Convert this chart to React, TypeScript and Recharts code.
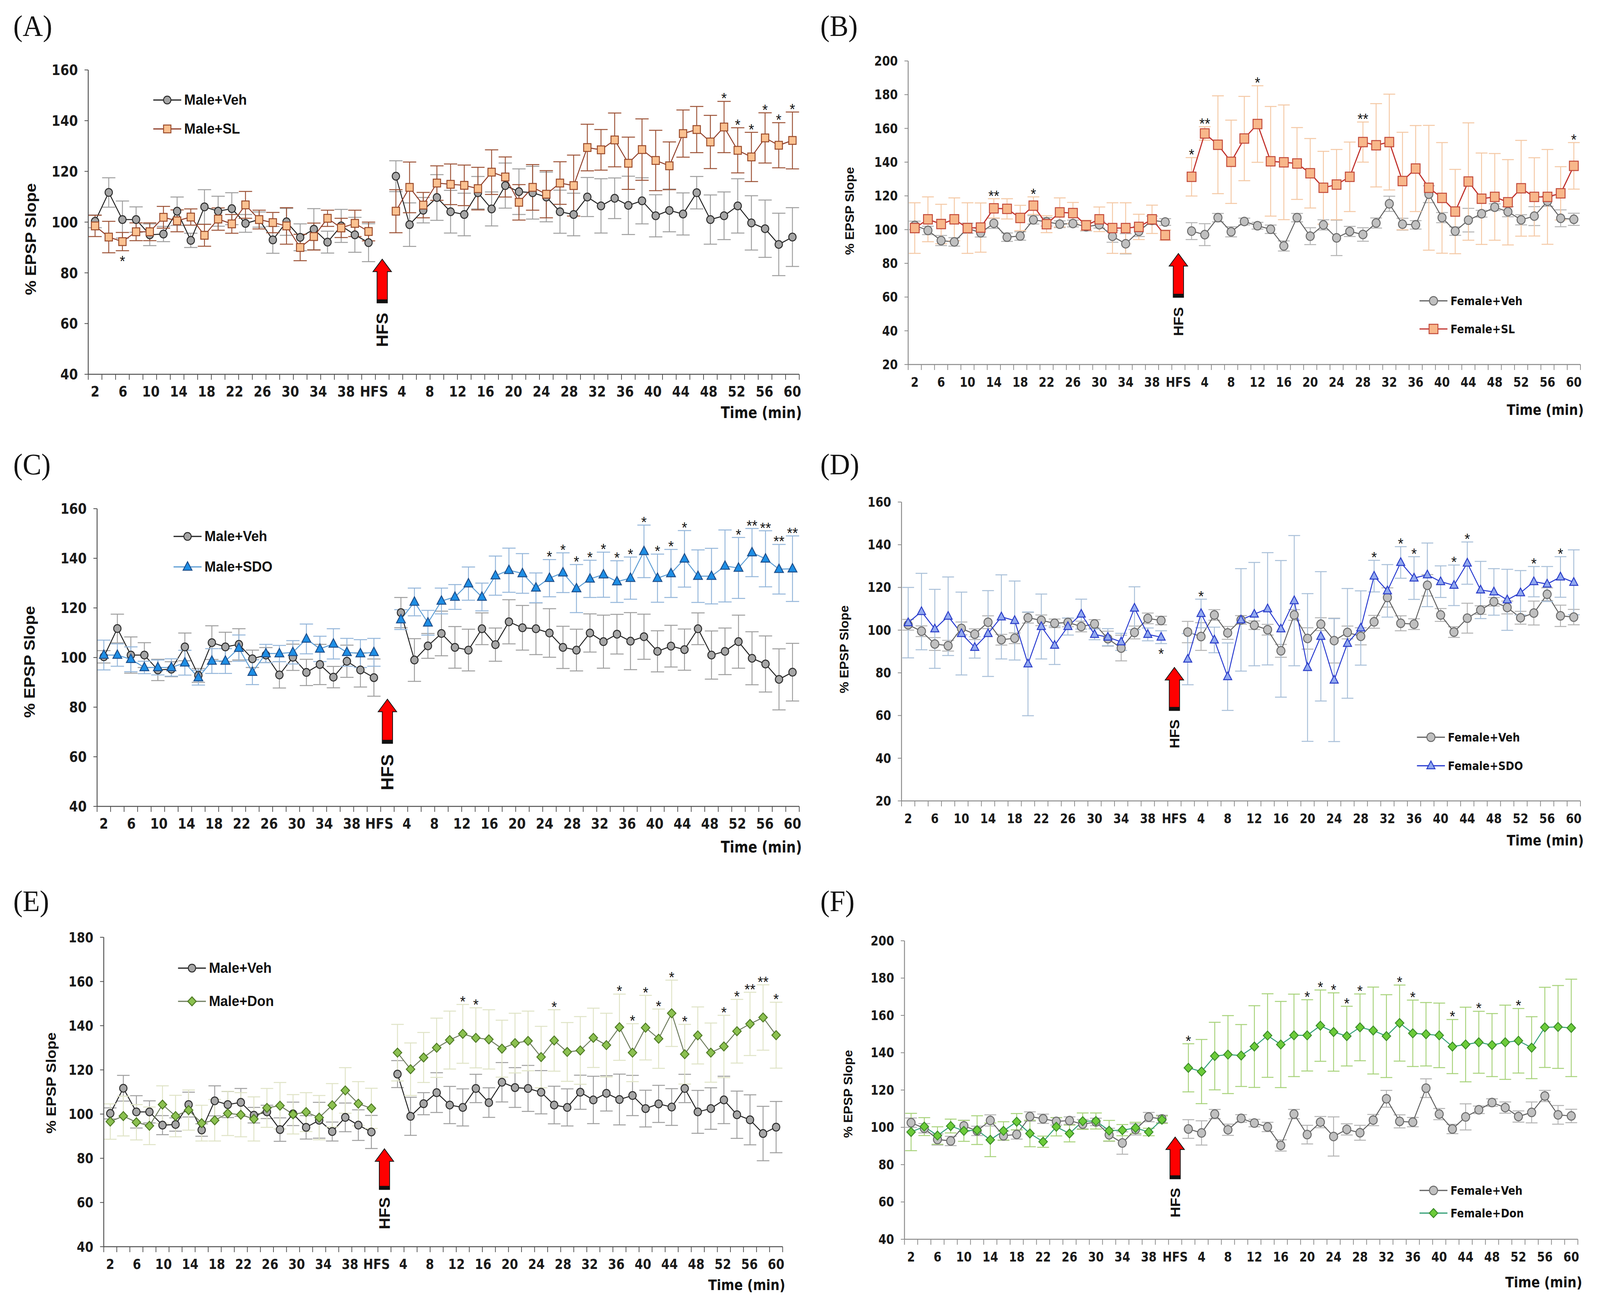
import React from "react";
import { LineChart, Line, XAxis, YAxis, ErrorBar, ReferenceDot } from "recharts";

// ---- x axis labels (shown every other slot) ----
const preLabels = ["2", "6", "10", "14", "18", "22", "26", "30", "34", "38"];
const postLabels = ["4", "8", "12", "16", "20", "24", "28", "32", "36", "40", "44", "48", "52", "56", "60"];
const tickLabels = [...preLabels, "HFS", ...postLabels];

// ---- Male + Veh (shared by A, C, E) ----
const maleVehPre = [100.3, 111.7, 101, 101, 95, 95.3, 104.3, 92.8, 106, 104.3, 105.3, 99.5, 101, 93, 100.1, 94, 97.2, 92.1, 98.5, 95, 91.9];
const maleVehPreErr = [2.5, 5.8, 7.3, 5, 4.3, 3, 5.6, 2.8, 6.8, 5.9, 6.3, 3.5, 3, 5.3, 5.3, 5.3, 8.1, 4.3, 6.5, 6.9, 7.5];
const maleVehPost = [118.1, 99, 104.7, 109.7, 104.1, 103, 111.6, 105.2, 114.4, 112, 111.6, 109.9, 104.1, 103, 109.9, 106.4, 109.4, 106.6, 108.4, 102.5, 104.6, 103.2, 111.6, 101, 102.5, 106.4, 99.7, 97.4, 91.2, 94.1];
const maleVehPostErr = [6.1, 8.6, 5, 9, 8.4, 8.4, 6.4, 6.7, 8.9, 9, 10.4, 9.8, 8.5, 8.4, 7.7, 10.7, 8, 11.5, 9.1, 8.3, 8.4, 8.3, 6.4, 9.7, 9.4, 10.7, 10.7, 11.3, 12.3, 11.6];

// ---- Male + SL (A) ----
const maleSLPre = [98.5, 94.1, 92.3, 96.2, 96.2, 101.9, 100.5, 102, 94.8, 101.2, 99.3, 106.8, 101, 99.8, 98.5, 90, 94.3, 101.5, 97.7, 99.5, 96.3];
const maleSLPreErr = [4.2, 6.2, 3.6, 3.5, 3.5, 4.3, 4.3, 3.2, 4.3, 4.4, 3.7, 5.3, 3.7, 4, 7.2, 5.2, 5.3, 3.2, 3.8, 5.2, 3.7];
const maleSLPost = [104.3, 113.7, 106.7, 115.4, 114.9, 114.5, 113.2, 119.7, 117.8, 107.8, 113.7, 111, 115.4, 114.4, 129.4, 128.5, 132.4, 123.2, 128.6, 124.3, 122.2, 134.9, 136.5, 131.6, 137.5, 128.3, 125.7, 133.2, 130.3, 132.2];
const maleSLPostErr = [8.5, 10, 5, 6.8, 8, 8, 8.4, 8.8, 7.9, 7, 9, 9.3, 8.4, 12, 9.2, 8, 10.6, 10.3, 12.1, 11.9, 9.4, 9.3, 9.1, 10.5, 10.1, 8.9, 9.7, 9.9, 8.9, 11.2];
const maleSLStarsPreBelow: Record<number, string> = { 2: "*" };
const maleSLStarsPost: Record<number, string> = { 24: "*", 25: "*", 26: "*", 27: "*", 28: "*", 29: "*" };

// ---- Male + SDO (C) ----
const maleSDOPre = [101, 101, 99.3, 96, 96, 96, 97.9, 91.9, 98.6, 98.6, 103.8, 94.1, 101.6, 101.6, 102.1, 107.5, 103.5, 105.5, 102.1, 101.6, 102.1];
const maleSDOPreErr = [6, 4.5, 5, 2.5, 3, 3.5, 5, 3, 5, 5, 5.3, 5, 3.7, 3.3, 4.7, 6, 5.1, 6.1, 5.6, 5.6, 5.6];
const maleSDOPost = [115.3, 122.4, 114, 122.8, 124.4, 129.8, 124.4, 133, 135.2, 133.9, 128.1, 132, 134.2, 127.8, 131.7, 133.4, 130.6, 132, 142.8, 132, 133.9, 139.8, 132.8, 132.8, 136.9, 136.1, 142.3, 139.8, 135.6, 135.8];
const maleSDOPostErr = [4, 5.6, 5, 5.2, 5, 6.7, 5.6, 7.9, 8.9, 8, 6, 7.5, 8, 9.7, 7.5, 9.1, 8.4, 8.5, 10.6, 9.7, 9.7, 11.4, 10.6, 11.2, 14.5, 12.3, 9.7, 11.3, 10, 13.2];
const maleSDOStarsPost: Record<number, string> = { 11: "*", 12: "*", 13: "*", 14: "*", 15: "*", 16: "*", 17: "*", 18: "*", 19: "*", 20: "*", 21: "*", 25: "*", 26: "**", 27: "**", 28: "**", 29: "**" };

// ---- Male + Don (E) ----
const maleDonPre = [96.6, 99.1, 96.3, 94.7, 104.3, 99.1, 101.8, 95.9, 97.2, 100.3, 99.7, 97.8, 102.8, 103.8, 99.9, 100.9, 98.4, 104, 110.7, 104.7, 102.6];
const maleDonPreErr = [8, 9, 8, 8.5, 8.5, 9.4, 9.1, 8.1, 9.4, 10, 10, 10, 8.8, 10.5, 8.9, 8.8, 10, 9.8, 10.3, 10, 9.1];
const maleDonPost = [127.8, 120.3, 125.6, 130, 133.5, 136.3, 134.5, 133.8, 129.6, 132.1, 133.1, 125.8, 133.3, 128.1, 128.8, 134.5, 131.2, 139.3, 127.8, 139.1, 134.1, 145.6, 127.1, 135.6, 127.8, 130.6, 137.5, 140.8, 143.7, 135.7];
const maleDonPostErr = [12.8, 11.9, 11.3, 13.4, 13.1, 13.3, 13.6, 13.4, 12.9, 13.5, 13.5, 13.9, 13.9, 13.3, 15.3, 13.4, 14.4, 15, 13.1, 14.6, 13.4, 15, 13.5, 12.9, 13.4, 14.1, 14.4, 14.3, 14.8, 14.9];
const maleDonStarsPost: Record<number, string> = { 5: "*", 6: "*", 12: "*", 17: "*", 18: "*", 19: "*", 20: "*", 21: "*", 22: "*", 25: "*", 26: "*", 27: "**", 28: "**", 29: "*" };

// ---- Female + Veh (shared by B, D, F) ----
const femaleVehPre = [102.5, 99.5, 93.5, 92.7, 100.8, 98.1, 103.7, 95.5, 96.2, 105.8, 104.6, 103.2, 103.6, 101.7, 102.9, 96, 91.6, 98.9, 105.5, 104.5];
const femaleVehPreErr = [2.5, 2.5, 3, 2.5, 3, 2.5, 3, 2.5, 2.5, 2.5, 2.5, 2, 2, 2.5, 2, 3.5, 6, 3, 2.5, 2];
const femaleVehPost = [99.1, 97, 107.1, 98.7, 104.8, 102.3, 100.2, 90.3, 107.1, 96.1, 102.8, 95.1, 98.9, 97.1, 103.9, 115.3, 103.2, 102.8, 121, 107.1, 99.1, 105.6, 109.4, 113.3, 110.6, 105.8, 108, 116.8, 106.7, 106.1];
const femaleVehPostErr = [5, 6.5, 2.5, 3, 2, 2, 2.5, 3, 2.5, 5, 3, 10.5, 3, 4, 3, 4.5, 3.5, 2.5, 5, 3, 2.5, 7, 2, 2, 3, 3, 5.6, 3, 5, 3.6];

// ---- Female + SL (B) ----
const femaleSLPre = [100.9, 106.1, 103.3, 106.1, 100.9, 101.2, 112.6, 112.3, 106.9, 114.2, 103.2, 110.2, 109.8, 102.5, 106.1, 100.9, 100.9, 101.6, 106.1, 96.7];
const femaleSLPreErr = [15, 13.3, 11.7, 12.7, 15, 14.6, 5.7, 6, 7.5, 5.2, 5, 8.6, 6.3, 3, 7.3, 15, 15, 7.5, 8.4, 3];
const femaleSLPost = [131.3, 157, 150.3, 140.2, 154, 162.6, 140.5, 139.9, 139.2, 133.4, 124.8, 126.7, 131.3, 151.9, 150, 151.9, 128.8, 136.2, 124.8, 118.8, 110.7, 128.5, 118.3, 119.4, 116.2, 124.5, 119.4, 119.4, 121.5, 137.8];
const femaleSLPostErr = [11.4, 4, 29, 24.7, 25, 22.7, 32.5, 34, 21.3, 20.6, 21.6, 20.8, 20.6, 11.9, 24.7, 28.4, 28.9, 25.5, 37, 32.8, 25, 34.8, 27.1, 25.7, 25.3, 28.4, 23.2, 28.1, 15.8, 13.8];
const femaleSLStarsPre: Record<number, string> = { 6: "**", 9: "*" };
const femaleSLStarsPost: Record<number, string> = { 0: "*", 1: "**", 5: "*", 13: "**", 29: "*" };

// ---- Female + SDO (D) ----
const femaleSDOPre = [103.5, 108.7, 100.6, 106.5, 98.4, 91.9, 98.4, 106.2, 104.5, 84.2, 101.7, 92.9, 101.7, 107.5, 98, 96.7, 94.5, 110.3, 98, 96.7];
const femaleSDOPreErr = [16.5, 17.9, 18.5, 18.4, 19.4, 5, 20.1, 19.7, 18.5, 24.3, 15.2, 9, 4, 7, 2.5, 4, 4, 10, 3, 3];
const femaleSDOPost = [86.4, 107.8, 95.4, 78.2, 104.8, 107.5, 110, 100.6, 113.8, 82.5, 97.1, 76.6, 93.8, 101, 125.3, 118.4, 131.7, 124.4, 125.9, 122.7, 121, 131.4, 118.8, 117.9, 114.2, 117.5, 122.7, 121.6, 124.9, 122.4];
const femaleSDOPostErr = [12, 6.7, 6, 15.8, 24, 24.2, 26.3, 32, 30.5, 34.6, 30.3, 28.8, 25.7, 17.4, 7.4, 12.3, 7.4, 10, 14.9, 7.4, 9.5, 9.9, 13.4, 10.9, 14.3, 10.4, 7.1, 8.2, 9.5, 15.2];
const femaleSDOStarsPreBelow: Record<number, string> = { 19: "*" };
const femaleSDOStarsPost: Record<number, string> = { 1: "*", 14: "*", 16: "*", 17: "*", 20: "*", 21: "*", 26: "*", 28: "*" };

// ---- Female + Don (F) ----
const femaleDonPre = [97.5, 100.4, 95.6, 100.7, 98.1, 98.5, 93.3, 98.1, 103, 96.7, 92.3, 100.3, 96.7, 103.3, 103.4, 98.2, 98.5, 99.7, 97.5, 104.1];
const femaleDonPreErr = [10, 4.8, 4.7, 3.7, 5.6, 7.7, 9, 4.9, 4.4, 7.1, 3, 4.9, 4.5, 4.4, 4.3, 5.5, 3, 3, 2, 2];
const femaleDonPost = [131.9, 129.9, 138.2, 139, 138.5, 143.3, 149.2, 144.4, 149.3, 149.3, 154.5, 151.1, 148.9, 153.6, 151.9, 148.9, 155.9, 150.4, 149.9, 149.3, 143.3, 144.4, 145.6, 144.1, 145.6, 146.4, 142.7, 153.6, 153.8, 153.3];
const femaleDonPostErr = [12.9, 17.2, 18.1, 20.9, 16.6, 21.9, 22.4, 23.1, 22.1, 19.1, 19.1, 21, 16, 17.9, 23.3, 22.2, 20.4, 17.8, 17, 17.3, 14.5, 20, 16.6, 16.9, 19.9, 17.3, 16.6, 21.5, 22.2, 26.1];
const femaleDonStarsPost: Record<number, string> = { 0: "*", 9: "*", 10: "*", 11: "*", 12: "*", 13: "*", 16: "*", 17: "*", 20: "*", 22: "*", 25: "*" };

const NARROW = "'Liberation Sans Narrow', 'Arial Narrow', 'DejaVu Sans Condensed', sans-serif";
const ARIAL = "'Liberation Sans', Arial, sans-serif";
const SERIF = "'Liberation Serif', 'Times New Roman', serif";

const PAGE_W = 4334;
const PAGE_H = 3330;
const TOP_PAD = 40;

type Shape = "circle" | "square" | "triangle" | "diamond";
interface SeriesStyle {
  line: string;
  lineWidth: number;
  fill: string;
  stroke: string;
  err: string;
  shape: Shape;
  size: number;
}

const maleVehStyle: SeriesStyle = { line: "#1f1f1f", lineWidth: 2.5, fill: "#a6a6a6", stroke: "#2b2b2b", err: "#9e9e9e", shape: "circle", size: 20 };
const femaleVehStyle: SeriesStyle = { line: "#5e5e5e", lineWidth: 2.5, fill: "#c0c0c0", stroke: "#6a6a6a", err: "#b3b3b3", shape: "circle", size: 22 };
const maleSLStyle: SeriesStyle = { line: "#8e3b26", lineWidth: 2.5, fill: "#fbc291", stroke: "#9a4a2a", err: "#9c5236", shape: "square", size: 20 };
const femaleSLStyle: SeriesStyle = { line: "#c0302b", lineWidth: 3, fill: "#f8b78a", stroke: "#c24a3a", err: "#f4c8a4", shape: "square", size: 24 };
const maleSDOStyle: SeriesStyle = { line: "#5a9bd3", lineWidth: 2.5, fill: "#1e8fe6", stroke: "#1d4f8c", err: "#94b6da", shape: "triangle", size: 24 };
const femaleSDOStyle: SeriesStyle = { line: "#2437cf", lineWidth: 2.5, fill: "#92a9f0", stroke: "#2a3dc8", err: "#a8bfd8", shape: "triangle", size: 22 };
const maleDonStyle: SeriesStyle = { line: "#6d7b5c", lineWidth: 2.5, fill: "#8cc151", stroke: "#4e7a23", err: "#dfe3c6", shape: "diamond", size: 21 };
const femaleDonStyle: SeriesStyle = { line: "#2d9c72", lineWidth: 2.5, fill: "#6dcc3a", stroke: "#3b8d27", err: "#a7d27a", shape: "diamond", size: 21 };

function MarkerShape({ cx, cy, st }: { cx: number; cy: number; st: SeriesStyle }) {
  const s = st.size;
  const h = s / 2;
  if (st.shape === "circle") return <circle cx={cx} cy={cy} r={h} fill={st.fill} stroke={st.stroke} strokeWidth={2.5} />;
  if (st.shape === "square") return <rect x={cx - h} y={cy - h} width={s} height={s} fill={st.fill} stroke={st.stroke} strokeWidth={2.5} />;
  if (st.shape === "triangle") {
    const pts = `${cx},${cy - s * 0.55} ${cx - h},${cy + s * 0.35} ${cx + h},${cy + s * 0.35}`;
    return <polygon points={pts} fill={st.fill} stroke={st.stroke} strokeWidth={2.5} />;
  }
  const pts = `${cx},${cy - h - 1} ${cx + h + 1},${cy} ${cx},${cy + h + 1} ${cx - h - 1},${cy}`;
  return <polygon points={pts} fill={st.fill} stroke={st.stroke} strokeWidth={2.5} />;
}

interface Row {
  x: number;
  veh?: number;
  vehErr?: number;
  drug?: number;
  drugErr?: number;
  star?: string;
  starHi?: number;
  starLo?: number;
}

function buildRows(
  vehPre: number[], vehPreErr: number[], vehPost: number[], vehPostErr: number[],
  drugPre: number[], drugPreErr: number[], drugPost: number[], drugPostErr: number[],
  starsPre: Record<number, string>, starsPreBelow: Record<number, string>, starsPost: Record<number, string>
): Row[] {
  const rows: Row[] = [];
  vehPre.forEach((v, i) => {
    const r: Row = { x: i, veh: v, vehErr: vehPreErr[i], drug: drugPre[i], drugErr: drugPreErr[i] };
    if (starsPre[i]) { r.star = starsPre[i]; r.starHi = drugPre[i] + drugPreErr[i]; }
    if (starsPreBelow[i]) { r.star = starsPreBelow[i]; r.starLo = drugPre[i] - drugPreErr[i]; }
    rows.push(r);
  });
  // empty HFS slot breaks both lines
  rows.push({ x: vehPre.length });
  vehPost.forEach((v, j) => {
    const r: Row = { x: vehPre.length + 1 + j, veh: v, vehErr: vehPostErr[j], drug: drugPost[j], drugErr: drugPostErr[j] };
    if (starsPost[j]) { r.star = starsPost[j]; r.starHi = drugPost[j] + drugPostErr[j]; }
    rows.push(r);
  });
  return rows;
}

interface PanelCfg {
  letter: string;
  rows: Row[];
  veh: SeriesStyle;
  drug: SeriesStyle;
  vehName: string;
  drugName: string;
  yDomain: [number, number];
  plot: [number, number, number, number];
  axisColor: string;
  tickFont: number;
  labelPos: [number, number];
  yTitle: { x: number; y: number; size: number };
  xTitle: { right: number; y: number; size: number };
  legend: { x: number; y1: number; y2: number; size: number; font: string };
  arrowTop: number;
  arrowLen: number;
  hfsFont: number;
  hfsGap: number;
  capWidth: number;
}

function Panel({ cfg }: { cfg: PanelCfg }) {
  const [x0, y0, x1, y1] = cfg.plot;
  const yAxisW = 150;
  const W = x1 - x0 + 170;
  const H = y1 - y0 + 160 + TOP_PAD;
  const nSlots = cfg.rows.length;
  const gapSlot = cfg.rows.find((r) => r.veh === undefined)!.x;
  const last = nSlots - 1;
  const labelPos = tickLabels.map((_, k) => (k * last) / (tickLabels.length - 1));
  const boundaries = Array.from({ length: nSlots + 1 }, (_, i) => i - 0.5);
  const yTicks: number[] = [];
  for (let v = cfg.yDomain[0]; v <= cfg.yDomain[1]; v += 20) yTicks.push(v);

  const XTick = (props: any) => {
    const { x, y, payload } = props;
    const v = payload.value;
    const li = labelPos.findIndex((p) => Math.abs(p - v) < 1e-6);
    if (li < 0) return <line x1={x} x2={x} y1={y - 14} y2={y} stroke={cfg.axisColor} strokeWidth={2} />;
    return (
      <text x={x} y={y + 43} textAnchor="middle" fontFamily={NARROW} fontWeight="bold" fontSize={cfg.tickFont} fill="#1a1a1a">
        {tickLabels[li]}
      </text>
    );
  };

  const YTick = (props: any) => {
    const { x, y, payload } = props;
    return (
      <text x={x} y={y} dy={cfg.tickFont * 0.35} textAnchor="end" fontFamily={NARROW} fontWeight="bold" fontSize={cfg.tickFont} fill="#1a1a1a">
        {payload.value}
      </text>
    );
  };

  const dotFor = (st: SeriesStyle) => (p: any) => {
    if (p.cy == null || !Number.isFinite(p.cy)) return <g key={`e${p.index}`} />;
    return <MarkerShape key={`m${p.index}`} cx={p.cx} cy={p.cy} st={st} />;
  };

  const starAbove = (p: any) => {
    if (!p.payload?.star || p.cy == null || !Number.isFinite(p.cy)) return <g key={`sa${p.index}`} />;
    return (
      <text key={`sa${p.index}`} x={p.cx} y={p.cy + 6} textAnchor="middle" fontFamily={ARIAL} fontSize={38} fill="#111">
        {p.payload.star}
      </text>
    );
  };
  const starBelow = (p: any) => {
    if (!p.payload?.star || p.cy == null || !Number.isFinite(p.cy)) return <g key={`sb${p.index}`} />;
    return (
      <text key={`sb${p.index}`} x={p.cx} y={p.cy + 40} textAnchor="middle" fontFamily={ARIAL} fontSize={38} fill="#111">
        {p.payload.star}
      </text>
    );
  };

  const arrowShape = (p: any) => {
    const cx = p.cx;
    const cy = p.cy;
    const L = cfg.arrowLen;
    const pts = `${cx},${cy} ${cx - 25},${cy + 32} ${cx - 14},${cy + 32} ${cx - 14},${cy + L} ${cx + 14},${cy + L} ${cx + 14},${cy + 32} ${cx + 25},${cy + 32}`;
    const ty = cy + L + cfg.hfsGap;
    return (
      <g>
        <polygon points={pts} fill="#ff0000" stroke="#111" strokeWidth={2} />
        <rect x={cx - 14} y={cy + L - 9} width={28} height={9} fill="#111" />
        <text x={cx} y={ty} transform={`rotate(-90 ${cx} ${ty})`} textAnchor="middle" dominantBaseline="central" fontFamily={ARIAL} fontWeight="bold" fontSize={cfg.hfsFont} fill="#111">
          HFS
        </text>
      </g>
    );
  };

  const legendIcon = (st: SeriesStyle) => (
    <svg width={76} height={40} style={{ display: "block" }}>
      <line x1={0} x2={76} y1={20} y2={20} stroke={st.line} strokeWidth={3} />
      <MarkerShape cx={38} cy={20} st={st} />
    </svg>
  );

  const legendRow = (st: SeriesStyle, name: string, yc: number) => (
    <div style={{ position: "absolute", left: cfg.legend.x, top: yc - 20, height: 40, display: "flex", alignItems: "center", whiteSpace: "nowrap" }}>
      {legendIcon(st)}
      <span style={{ marginLeft: 8, fontFamily: cfg.legend.font, fontWeight: "bold", fontSize: cfg.legend.size, color: "#111", lineHeight: "40px" }}>{name}</span>
    </div>
  );

  return (
    <>
      <div style={{ position: "absolute", left: cfg.labelPos[0], top: cfg.labelPos[1], fontFamily: SERIF, fontSize: 76, lineHeight: 1, color: "#111" }}>
        ({cfg.letter})
      </div>
      <div style={{ position: "absolute", left: x0 - yAxisW, top: y0 - TOP_PAD }}>
        <LineChart width={W} height={H} data={cfg.rows} margin={{ top: TOP_PAD, right: 20, bottom: 20, left: 0 }}>
          <XAxis
            dataKey="x"
            type="number"
            domain={[-0.5, nSlots - 0.5]}
            allowDataOverflow
            ticks={[...boundaries, ...labelPos]}
            interval={0}
            tick={XTick}
            tickLine={false}
            tickSize={14}
            tickMargin={0}
            height={140}
            axisLine={{ stroke: cfg.axisColor, strokeWidth: 2.5 }}
          />
          <YAxis
            type="number"
            domain={cfg.yDomain}
            allowDataOverflow
            ticks={yTicks}
            interval={0}
            width={yAxisW}
            tick={YTick}
            tickSize={10}
            tickMargin={18}
            tickLine={{ stroke: cfg.axisColor, strokeWidth: 2 }}
            axisLine={{ stroke: cfg.axisColor, strokeWidth: 2.5 }}
          />
          <Line
            type="linear"
            dataKey="veh"
            stroke={cfg.veh.line}
            strokeWidth={cfg.veh.lineWidth}
            dot={dotFor(cfg.veh)}
            activeDot={false}
            connectNulls={false}
            isAnimationActive={false}
          >
            <ErrorBar dataKey="vehErr" width={cfg.capWidth} stroke={cfg.veh.err} strokeWidth={2.5} direction="y" />
          </Line>
          <Line
            type="linear"
            dataKey="drug"
            stroke={cfg.drug.line}
            strokeWidth={cfg.drug.lineWidth}
            dot={dotFor(cfg.drug)}
            activeDot={false}
            connectNulls={false}
            isAnimationActive={false}
          >
            <ErrorBar dataKey="drugErr" width={cfg.capWidth} stroke={cfg.drug.err} strokeWidth={2.5} direction="y" />
          </Line>
          <Line dataKey="starHi" stroke="none" dot={starAbove} activeDot={false} isAnimationActive={false} />
          <Line dataKey="starLo" stroke="none" dot={starBelow} activeDot={false} isAnimationActive={false} />
          <ReferenceDot x={gapSlot} y={cfg.arrowTop} r={0} shape={arrowShape} ifOverflow="visible" />
        </LineChart>
      </div>
      <div
        style={{
          position: "absolute",
          left: cfg.yTitle.x,
          top: cfg.yTitle.y,
          transform: "translate(-50%, -50%) rotate(-90deg)",
          fontFamily: ARIAL,
          fontWeight: "bold",
          fontSize: cfg.yTitle.size,
          whiteSpace: "nowrap",
          color: "#111",
          lineHeight: 1,
        }}
      >
        % EPSP Slope
      </div>
      <div
        style={{
          position: "absolute",
          left: cfg.xTitle.right,
          top: cfg.xTitle.y,
          transform: "translate(-100%, -50%)",
          fontFamily: NARROW,
          fontWeight: "bold",
          fontSize: cfg.xTitle.size,
          whiteSpace: "nowrap",
          color: "#111",
          lineHeight: 1,
        }}
      >
        Time (min)
      </div>
      {legendRow(cfg.veh, cfg.vehName, cfg.legend.y1)}
      {legendRow(cfg.drug, cfg.drugName, cfg.legend.y2)}
    </>
  );
}

const none: Record<number, string> = {};

const panels: PanelCfg[] = [
  {
    letter: "A",
    rows: buildRows(maleVehPre, maleVehPreErr, maleVehPost, maleVehPostErr, maleSLPre, maleSLPreErr, maleSLPost, maleSLPostErr, none, maleSLStarsPreBelow, maleSLStarsPost),
    veh: maleVehStyle, drug: maleSLStyle, vehName: "Male+Veh", drugName: "Male+SL",
    yDomain: [40, 160], plot: [239, 179, 2165, 958], axisColor: "#505050", tickFont: 38,
    labelPos: [36, 28], yTitle: { x: 83, y: 612, size: 42 }, xTitle: { right: 2172, y: 1056, size: 40 },
    legend: { x: 415, y1: 256, y2: 330, size: 37, font: ARIAL },
    arrowTop: 85.4, arrowLen: 112, hfsFont: 44, hfsGap: 69, capWidth: 18,
  },
  {
    letter: "B",
    rows: buildRows(femaleVehPre, femaleVehPreErr, femaleVehPost, femaleVehPostErr, femaleSLPre, femaleSLPreErr, femaleSLPost, femaleSLPostErr, femaleSLStarsPre, none, femaleSLStarsPost),
    veh: femaleVehStyle, drug: femaleSLStyle, vehName: "Female+Veh", drugName: "Female+SL",
    yDomain: [20, 200], plot: [2460, 156, 4281, 933], axisColor: "#8a8a8a", tickFont: 34,
    labelPos: [2222, 28], yTitle: { x: 2301, y: 540, size: 33 }, xTitle: { right: 4290, y: 1049, size: 38 },
    legend: { x: 3845, y1: 770, y2: 842, size: 31, font: NARROW },
    arrowTop: 85.8, arrowLen: 112, hfsFont: 37, hfsGap: 62, capWidth: 16,
  },
  {
    letter: "C",
    rows: buildRows(maleVehPre, maleVehPreErr, maleVehPost, maleVehPostErr, maleSDOPre, maleSDOPreErr, maleSDOPost, maleSDOPostErr, none, none, maleSDOStarsPost),
    veh: maleVehStyle, drug: maleSDOStyle, vehName: "Male+Veh", drugName: "Male+SDO",
    yDomain: [40, 160], plot: [263, 1302, 2165, 2064], axisColor: "#505050", tickFont: 38,
    labelPos: [36, 1150], yTitle: { x: 80, y: 1694, size: 42 }, xTitle: { right: 2172, y: 2168, size: 40 },
    legend: { x: 470, y1: 1373, y2: 1451, size: 37, font: ARIAL },
    arrowTop: 83.2, arrowLen: 113, hfsFont: 46, hfsGap: 74, capWidth: 18,
  },
  {
    letter: "D",
    rows: buildRows(femaleVehPre, femaleVehPreErr, femaleVehPost, femaleVehPostErr, femaleSDOPre, femaleSDOPreErr, femaleSDOPost, femaleSDOPostErr, none, femaleSDOStarsPreBelow, femaleSDOStarsPost),
    veh: femaleVehStyle, drug: femaleSDOStyle, vehName: "Female+Veh", drugName: "Female+SDO",
    yDomain: [20, 160], plot: [2442, 1285, 4281, 2050], axisColor: "#8a8a8a", tickFont: 34,
    labelPos: [2222, 1150], yTitle: { x: 2287, y: 1662, size: 33 }, xTitle: { right: 4290, y: 2151, size: 38 },
    legend: { x: 3838, y1: 1887, y2: 1960, size: 31, font: NARROW },
    arrowTop: 82.5, arrowLen: 110, hfsFont: 37, hfsGap: 60, capWidth: 16,
  },
  {
    letter: "E",
    rows: buildRows(maleVehPre, maleVehPreErr, maleVehPost, maleVehPostErr, maleDonPre, maleDonPreErr, maleDonPost, maleDonPostErr, none, none, maleDonStarsPost),
    veh: maleVehStyle, drug: maleDonStyle, vehName: "Male+Veh", drugName: "Male+Don",
    yDomain: [40, 180], plot: [281, 2399, 2120, 3191], axisColor: "#505050", tickFont: 36,
    labelPos: [36, 2268], yTitle: { x: 138, y: 2772, size: 38 }, xTitle: { right: 2127, y: 3289, size: 38 },
    legend: { x: 482, y1: 2478, y2: 2563, size: 37, font: ARIAL },
    arrowTop: 84.3, arrowLen: 104, hfsFont: 41, hfsGap: 61, capWidth: 17,
  },
  {
    letter: "F",
    rows: buildRows(femaleVehPre, femaleVehPreErr, femaleVehPost, femaleVehPostErr, femaleDonPre, femaleDonPreErr, femaleDonPost, femaleDonPostErr, none, none, femaleDonStarsPost),
    veh: femaleVehStyle, drug: femaleDonStyle, vehName: "Female+Veh", drugName: "Female+Don",
    yDomain: [40, 200], plot: [2450, 2408, 4274, 3172], axisColor: "#8a8a8a", tickFont: 34,
    labelPos: [2222, 2268], yTitle: { x: 2297, y: 2800, size: 33 }, xTitle: { right: 4286, y: 3282, size: 38 },
    legend: { x: 3845, y1: 3047, y2: 3105, size: 31, font: NARROW },
    arrowTop: 94.8, arrowLen: 107, hfsFont: 38, hfsGap: 61, capWidth: 16,
  },
];

export default function App() {
  // stretch the figure to the visible page area
  const vw = typeof window !== "undefined" ? window.innerWidth : PAGE_W;
  const vh = typeof window !== "undefined" ? window.innerHeight : PAGE_H;
  const sx = vw > 0 ? Math.min(1, vw / PAGE_W) : 1;
  const sy = vh > 0 ? Math.min(1, vh / PAGE_H) : 1;
  return (
    <div style={{ position: "absolute", left: 0, top: 0, width: PAGE_W * sx, height: PAGE_H * sy, background: "#ffffff", overflow: "hidden" }}>
      <div style={{ position: "absolute", left: 0, top: 0, width: PAGE_W, height: PAGE_H, transform: `scale(${sx}, ${sy})`, transformOrigin: "0 0" }}>
        {panels.map((p) => (
          <Panel key={p.letter} cfg={p} />
        ))}
      </div>
    </div>
  );
}
